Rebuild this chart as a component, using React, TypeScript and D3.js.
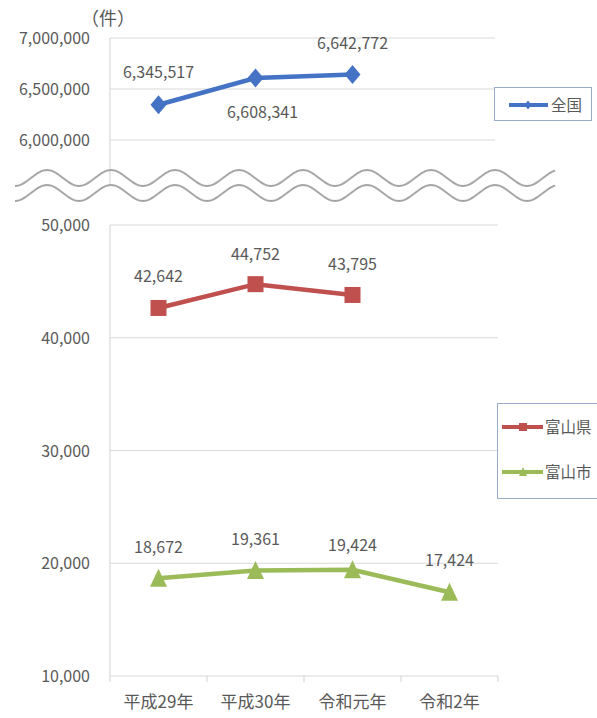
import React from "react";
import * as d3 from "d3";

const categories = ["平成29年", "平成30年", "令和元年", "令和2年"];
const nationalValues: (number | null)[] = [6345517, 6608341, 6642772, null];
const prefectureValues: (number | null)[] = [42642, 44752, 43795, null];
const cityValues: (number | null)[] = [18672, 19361, 19424, 17424];
const topTicks = [6000000, 6500000, 7000000];
const bottomTicks = [10000, 20000, 30000, 40000, 50000];
const seriesNames = { national: "全国", prefecture: "富山県", city: "富山市" };
const unitLabel = "（件）";

const FONT = "'Noto Sans CJK JP', 'Noto Sans', sans-serif";
const TEXT = "#595959";
const GRID = "#d9d9d9";
const BLUE = "#4472C4";
const RED = "#C0504D";
const GREEN = "#9BBB59";

const fmt = d3.format(",");

export default function App() {
  const x = d3.scaleBand<string>().domain(categories).range([110, 498]);
  const cx = (c: string) => (x(c) as number) + x.bandwidth() / 2;
  const yTop = d3.scaleLinear().domain([6000000, 7000000]).range([140, 38]);
  const yBot = d3.scaleLinear().domain([10000, 50000]).range([676, 225]);

  const mkLine = (y: d3.ScaleLinear<number, number>) =>
    d3
      .line<number | null>()
      .defined((d) => d != null)
      .x((_, i) => cx(categories[i]))
      .y((d) => y(d as number));

  // wave break decoration
  const waveLine = (offset: number) => {
    const pts: [number, number][] = d3.range(15, 556, 2).map((px) => [
      px,
      178 + offset + 8 * Math.cos((2 * Math.PI * (px - 15)) / 64),
    ]);
    return d3.line().curve(d3.curveBasis)(pts) as string;
  };

  // label offsets (styling)
  const natOff = [-33, 34, -31, 0];
  const natDx = [0, 7, 0, 0];
  const prefOff = [-32, -30, -31, 0];
  const cityOff = [-31, -31, -25, -32];

  const diamond = (px: number, py: number, w: number, h: number) =>
    `M${px},${py - h / 2}L${px + w / 2},${py}L${px},${py + h / 2}L${px - w / 2},${py}Z`;
  const triangle = (px: number, py: number, s: number) =>
    `M${px},${py - s / 2 - 1}L${px + s / 2},${py + s / 2}L${px - s / 2},${py + s / 2}Z`;

  return (
    <svg
      width={597}
      height={718}
      style={{ position: "absolute", left: 0, top: 0, background: "#fff" }}
      fontFamily={FONT}
    >
      <rect width={597} height={718} fill="#fff" />
      {/* unit */}
      <text x={108} y={25} fontSize={18} fill={TEXT} textAnchor="middle">
        {unitLabel}
      </text>

      {/* top panel */}
      {topTicks.map((t) => (
        <g key={t}>
          <line x1={110} x2={495} y1={yTop(t)} y2={yTop(t)} stroke={GRID} strokeWidth={1.2} />
          <text x={90} y={yTop(t) + 6} fontSize={16} fill={TEXT} textAnchor="end">
            {fmt(t)}
          </text>
        </g>
      ))}
      <line x1={110} x2={110} y1={38} y2={186} stroke={GRID} strokeWidth={1.2} />
      <path d={mkLine(yTop)(nationalValues) as string} fill="none" stroke={BLUE} strokeWidth={4.5} />
      {nationalValues.map((v, i) =>
        v == null ? null : (
          <g key={i}>
            <path d={diamond(cx(categories[i]), yTop(v), 16, 19)} fill={BLUE} />
            <text
              x={cx(categories[i]) + natDx[i]}
              y={yTop(v) + natOff[i] + 6}
              fontSize={16}
              fill={TEXT}
              textAnchor="middle"
            >
              {fmt(v)}
            </text>
          </g>
        )
      )}
      {/* top legend */}
      <rect x={494.5} y={87.5} width={97} height={33} fill="#fff" stroke="#9aadc8" strokeWidth={1} />
      <line x1={509} x2={548} y1={105} y2={105} stroke={BLUE} strokeWidth={4} />
      <path d={diamond(528, 105, 7, 9)} fill={BLUE} />
      <text x={551} y={110.5} fontSize={15.5} fill={TEXT}>
        {seriesNames.national}
      </text>

      {/* wave break */}
      <path d={waveLine(0)} fill="none" stroke="#a6a6a6" strokeWidth={2} />
      <path d={waveLine(15)} fill="none" stroke="#a6a6a6" strokeWidth={2} />

      {/* bottom panel */}
      {bottomTicks.map((t) => (
        <g key={t}>
          <line x1={110} x2={498} y1={yBot(t)} y2={yBot(t)} stroke={GRID} strokeWidth={1.2} />
          <text x={90} y={yBot(t) + 6} fontSize={16} fill={TEXT} textAnchor="end">
            {fmt(t)}
          </text>
        </g>
      ))}
      <line x1={110} x2={110} y1={225} y2={676} stroke={GRID} strokeWidth={1.2} />
      {d3.range(categories.length + 1).map((i) => {
        const px = 110 + i * x.bandwidth();
        return <line key={i} x1={px} x2={px} y1={676} y2={682} stroke={GRID} strokeWidth={1.2} />;
      })}
      {categories.map((c) => (
        <text key={c} x={cx(c)} y={708} fontSize={17} fill={TEXT} textAnchor="middle">
          {c}
        </text>
      ))}

      <path d={mkLine(yBot)(prefectureValues) as string} fill="none" stroke={RED} strokeWidth={4.5} />
      {prefectureValues.map((v, i) =>
        v == null ? null : (
          <g key={i}>
            <rect x={cx(categories[i]) - 8} y={yBot(v) - 8} width={16} height={16} fill={RED} />
            <text x={cx(categories[i])} y={yBot(v) + prefOff[i] + 6} fontSize={16} fill={TEXT} textAnchor="middle">
              {fmt(v)}
            </text>
          </g>
        )
      )}

      <path d={mkLine(yBot)(cityValues) as string} fill="none" stroke={GREEN} strokeWidth={4.5} />
      {cityValues.map((v, i) =>
        v == null ? null : (
          <g key={i}>
            <path d={triangle(cx(categories[i]), yBot(v), 17)} fill={GREEN} />
            <text x={cx(categories[i])} y={yBot(v) + cityOff[i] + 6} fontSize={16} fill={TEXT} textAnchor="middle">
              {fmt(v)}
            </text>
          </g>
        )
      )}

      {/* bottom legend */}
      <rect x={497.5} y={403.5} width={105} height={95} fill="#fff" stroke="#9aadc8" strokeWidth={1} />
      <line x1={502} x2={543} y1={427} y2={427} stroke={RED} strokeWidth={4} />
      <rect x={519} y={423} width={8} height={8} fill={RED} />
      <text x={545} y={432.5} fontSize={15.5} fill={TEXT}>
        {seriesNames.prefecture}
      </text>
      <line x1={502} x2={543} y1={472} y2={472} stroke={GREEN} strokeWidth={4} />
      <path d={triangle(523, 472, 8)} fill={GREEN} />
      <text x={545} y={477.5} fontSize={15.5} fill={TEXT}>
        {seriesNames.city}
      </text>
    </svg>
  );
}
